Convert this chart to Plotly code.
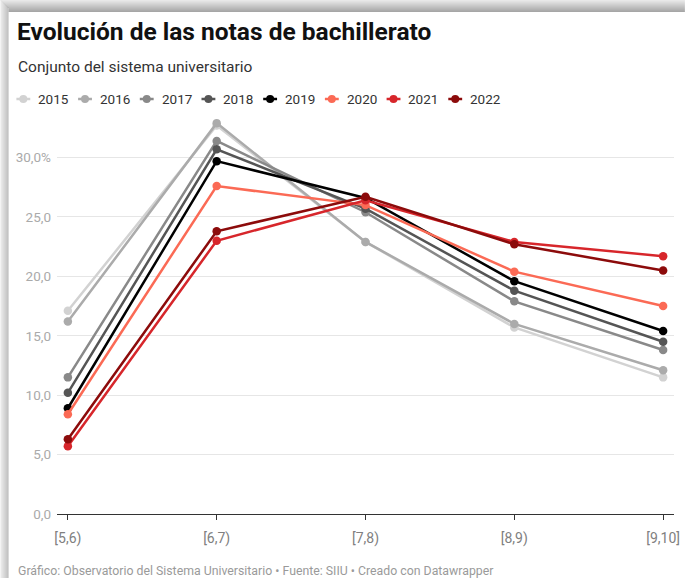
import plotly.graph_objects as go

# Grade brackets (x categories) and share of students per year (%)
categories = ["[5,6)", "[6,7)", "[7,8)", "[8,9)", "[9,10]"]
years = ["2015", "2016", "2017", "2018", "2019", "2020", "2021", "2022"]
v2015 = [17.1, 32.7, 22.9, 15.7, 11.5]
v2016 = [16.2, 32.9, 22.9, 16.0, 12.1]
v2017 = [11.5, 31.4, 25.4, 17.9, 13.8]
v2018 = [10.2, 30.7, 25.7, 18.8, 14.5]
v2019 = [8.9, 29.7, 26.6, 19.6, 15.4]
v2020 = [8.4, 27.6, 26.0, 20.4, 17.5]
v2021 = [5.7, 23.0, 26.4, 22.9, 21.7]
v2022 = [6.3, 23.8, 26.7, 22.7, 20.5]
series = [v2015, v2016, v2017, v2018, v2019, v2020, v2021, v2022]
colors = ["#d2d2d2", "#ababab", "#898989", "#555555", "#000000",
          "#fb6a55", "#d7262b", "#8c0b0b"]

y_ticks = [0, 5, 10, 15, 20, 25, 30]
y_tick_text = ["0,0", "5,0", "10,0", "15,0", "20,0", "25,0", "30,0%"]

W_PX, H_PX = 691, 578
ML, MR, MT, MB = 57, 11, 116, 64
PW, PH = W_PX - ML - MR, H_PX - MT - MB


def px(x):
    return (x - ML) / PW


def py(y):
    return (H_PX - MB - y) / PH


FONT = "Roboto"

fig = go.Figure()
for name, vals, col in zip(years, series, colors):
    fig.add_trace(go.Scatter(
        x=list(range(len(categories))), y=vals, name=name,
        mode="lines+markers",
        line=dict(color=col, width=2.5),
        marker=dict(color=col, size=8.5),
        showlegend=False,
    ))

shapes = []
# card shadow along the top and left edges
for i in range(12):
    g = int(232 - i * 6)
    shapes.append(dict(type="rect", xref="paper", yref="paper",
                       x0=px(min(i, 8)), x1=px(W_PX), y0=py(i), y1=py(i + 1),
                       fillcolor=f"rgb({g},{g},{g})", line_width=0, layer="below"))
for i in range(8):
    g = int(230 - i * 8)
    shapes.append(dict(type="rect", xref="paper", yref="paper",
                       x0=px(i), x1=px(i + 1), y0=py(min(i, 12)), y1=py(H_PX),
                       fillcolor=f"rgb({g},{g},{g})", line_width=0, layer="below"))

annotations = [
    dict(text="<b>Evolución de las notas de bachillerato</b>", x=px(15), y=py(32),
         xref="paper", yref="paper", xanchor="left", yanchor="middle",
         showarrow=False, font=dict(family=FONT, size=24.5, color="#111111")),
    dict(text="Conjunto del sistema universitario", x=px(16), y=py(67),
         xref="paper", yref="paper", xanchor="left", yanchor="middle",
         showarrow=False, font=dict(family=FONT, size=15.5, color="#333333")),
    dict(text="Gráfico: Observatorio del Sistema Universitario • Fuente: SIIU • Creado con Datawrapper",
         x=px(16), y=py(571), xref="paper", yref="paper", xanchor="left",
         yanchor="middle", showarrow=False,
         font=dict(family=FONT, size=12.3, color="#9a9a9a")),
]

# legend row: short line with a dot, then the year
leg_y = 99
for i, (name, col) in enumerate(zip(years, colors)):
    x0 = 16 + i * 62.3
    shapes.append(dict(type="line", xref="paper", yref="paper",
                       x0=px(x0), x1=px(x0 + 14), y0=py(leg_y), y1=py(leg_y),
                       line=dict(color=col, width=2.5)))
    shapes.append(dict(type="circle", xref="paper", yref="paper",
                       xsizemode="pixel", ysizemode="pixel",
                       xanchor=px(x0 + 7), yanchor=py(leg_y),
                       x0=-4, x1=4, y0=-4, y1=4,
                       fillcolor=col, line_width=0))
    annotations.append(dict(text=name, x=px(x0 + 20), y=py(leg_y), xref="paper",
                            yref="paper", xanchor="left", yanchor="middle",
                            showarrow=False,
                            font=dict(family=FONT, size=13.5, color="#333333")))

fig.update_layout(
    width=W_PX, height=H_PX,
    margin=dict(l=ML, r=MR, t=MT, b=MB),
    paper_bgcolor="white", plot_bgcolor="rgba(0,0,0,0)",
    shapes=shapes, annotations=annotations,
    xaxis=dict(
        range=[-0.073, 4.073], tickvals=list(range(len(categories))),
        ticktext=categories, showgrid=False, zeroline=False,
        showline=True, linecolor="#333333", linewidth=1,
        ticks="outside", ticklen=5, tickcolor="#333333",
        ticklabelstandoff=6,
        tickfont=dict(family=FONT, size=14, color="#808080"),
    ),
    yaxis=dict(
        range=[0, 33.5], tickvals=y_ticks, ticktext=y_tick_text,
        showgrid=True, gridcolor="#e6e6e6", gridwidth=1, zeroline=False,
        showline=False, ticks="", ticklabelstandoff=5,
        tickfont=dict(family=FONT, size=13.5, color="#aaaaaa"),
    ),
)

fig.write_html("out.html")
